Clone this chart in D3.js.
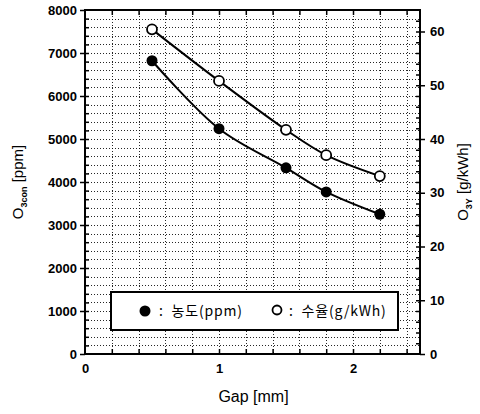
<!DOCTYPE html>
<html>
<head>
<meta charset="utf-8">
<script src="https://cdn.jsdelivr.net/npm/d3@7"></script>
<style>
  body { margin: 0; background: #fff; }
  svg { display: block; }
</style>
</head>
<body>
<svg width="480" height="414"></svg>
<script>
// data
var gaps = [0.5, 1.0, 1.5, 1.8, 2.2];
var concPpm = [6820, 5240, 4330, 3770, 3250];     // filled, left axis
var yieldGkwh = [60.4, 50.8, 41.7, 37.0, 33.1];    // open, right axis
var xTicks = [0, 1, 2];
var leftTicks = [0, 1000, 2000, 3000, 4000, 5000, 6000, 7000, 8000];
var rightTicks = [0, 10, 20, 30, 40, 50, 60];
var legendLabels = [":  농도(ppm)", ":  수율(g/kWh)"];

const svg = d3.select("svg"),
  margin = {left: 85, right: 60, top: 10, bottom: 60},
  width = +svg.attr("width"),
  height = +svg.attr("height");

const x = d3.scaleLinear().domain([0, 2.5]).range([margin.left, width - margin.right]);
const yL = d3.scaleLinear().domain([0, 8000]).range([height - margin.bottom, margin.top]);
const yR = d3.scaleLinear().domain([0, 64]).range([height - margin.bottom, margin.top]);

const x0 = x.range()[0], x1 = x.range()[1], y0 = yL.range()[0], y1 = yL.range()[1];

// dotted grid
const grid = svg.append("g")
    .attr("stroke", "#000")
    .attr("stroke-width", 1)
    .attr("stroke-dasharray", "1,2")
    .attr("stroke-opacity", 0.85);

grid.selectAll(".vg")
  .data(d3.range(0.2, 2.5, 0.2))
  .enter().append("line")
    .attr("x1", d => Math.round(x(d)) + 0.5)
    .attr("x2", d => Math.round(x(d)) + 0.5)
    .attr("y1", y1).attr("y2", y0);

grid.selectAll(".hg")
  .data(d3.range(200, 8000, 200))
  .enter().append("line")
    .attr("x1", x0).attr("x2", x1)
    .attr("y1", d => Math.round(yL(d)) + 0.5)
    .attr("y2", d => Math.round(yL(d)) + 0.5);

// axes
const font = "'Liberation Sans', Arial, sans-serif";

function styleAxis(g) {
  g.selectAll("path").remove();
  g.selectAll("line").attr("stroke", "#000").attr("stroke-width", 1.5);
  g.selectAll("text")
    .style("font-family", font)
    .style("font-size", "13px")
    .style("font-weight", "bold")
    .attr("fill", "#000");
}

// minor ticks (inward)
svg.append("g").attr("transform", `translate(${x0},0)`)
  .call(d3.axisRight(yL).tickValues(d3.range(200, 8000, 200)).tickSize(4).tickFormat(""))
  .call(styleAxis);
svg.append("g").attr("transform", `translate(${x1},0)`)
  .call(d3.axisLeft(yR).tickValues(d3.range(2, 64, 2)).tickSize(4).tickFormat(""))
  .call(styleAxis);
svg.append("g").attr("transform", `translate(0,${y0})`)
  .call(d3.axisTop(x).tickValues(d3.range(0.2, 2.5, 0.2)).tickSize(5).tickFormat(""))
  .call(styleAxis);
svg.append("g").attr("transform", `translate(0,${y1})`)
  .call(d3.axisBottom(x).tickValues(d3.range(0.2, 2.5, 0.2)).tickSize(5).tickFormat(""))
  .call(styleAxis);

// major ticks + labels
svg.append("g").attr("transform", `translate(${x0},0)`)
  .call(d3.axisLeft(yL).tickValues(leftTicks).tickSize(5).tickPadding(3).tickFormat(d3.format("d")))
  .call(styleAxis);
svg.append("g").attr("transform", `translate(${x1},0)`)
  .call(d3.axisRight(yR).tickValues(rightTicks).tickSize(5).tickPadding(5).tickFormat(d3.format("d")))
  .call(styleAxis);
svg.append("g").attr("transform", `translate(0,${y0})`)
  .call(d3.axisBottom(x).tickValues(xTicks).tickSize(0).tickPadding(10).tickFormat(d3.format("d")))
  .call(styleAxis);

// frame
svg.append("rect")
  .attr("x", x0).attr("y", y1)
  .attr("width", x1 - x0).attr("height", y0 - y1)
  .attr("fill", "none").attr("stroke", "#000").attr("stroke-width", 2);

// axis titles
svg.append("text")
  .attr("x", (x0 + x1) / 2 + 1).attr("y", 402)
  .attr("text-anchor", "middle")
  .style("font-family", font).style("font-size", "16px")
  .text("Gap [mm]");

const lt = svg.append("text")
  .attr("transform", `translate(23,${(y0 + y1) / 2}) rotate(-90)`)
  .attr("text-anchor", "middle")
  .style("font-family", font).style("font-size", "15px");
lt.append("tspan").text("O");
lt.append("tspan").attr("dy", 4).style("font-size", "9px").style("font-weight", "bold").text("3con");
lt.append("tspan").attr("dy", -4).text(" [ppm]");

const rt = svg.append("text")
  .attr("transform", `translate(468,${(y0 + y1) / 2}) rotate(-90)`)
  .attr("text-anchor", "middle")
  .style("font-family", font).style("font-size", "15px");
rt.append("tspan").text("O");
rt.append("tspan").attr("dy", 4).style("font-size", "9px").style("font-weight", "bold").text("3Y");
rt.append("tspan").attr("dy", -4).text(" [g/kWh]");

// series
const conc = gaps.map((g, i) => ({x: g, y: concPpm[i]}));
const yld = gaps.map((g, i) => ({x: g, y: yieldGkwh[i]}));

const lineL = d3.line().x(d => x(d.x)).y(d => yL(d.y)).curve(d3.curveCatmullRom.alpha(0.5));
const lineR = d3.line().x(d => x(d.x)).y(d => yR(d.y)).curve(d3.curveCatmullRom.alpha(0.5));

svg.append("path").datum(conc)
  .attr("d", lineL).attr("fill", "none").attr("stroke", "#000").attr("stroke-width", 2);
svg.append("path").datum(yld)
  .attr("d", lineR).attr("fill", "none").attr("stroke", "#000").attr("stroke-width", 2);

svg.append("g").selectAll("circle")
  .data(conc)
  .enter().append("circle")
    .attr("cx", d => x(d.x)).attr("cy", d => yL(d.y))
    .attr("r", 5.5).attr("fill", "#000");

svg.append("g").selectAll("circle")
  .data(yld)
  .enter().append("circle")
    .attr("cx", d => x(d.x)).attr("cy", d => yR(d.y))
    .attr("r", 5).attr("fill", "#fff").attr("stroke", "#000").attr("stroke-width", 1.8);

// legend
const lg = svg.append("g");
lg.append("rect")
  .attr("x", 111).attr("y", 292).attr("width", 287).attr("height", 38)
  .attr("fill", "#fff").attr("stroke", "#000").attr("stroke-width", 2);
lg.append("circle").attr("cx", 145).attr("cy", 311).attr("r", 5.5).attr("fill", "#000");
lg.append("circle").attr("cx", 277).attr("cy", 310).attr("r", 4.5)
  .attr("fill", "#fff").attr("stroke", "#000").attr("stroke-width", 1.8);
lg.selectAll("text")
  .data(legendLabels)
  .enter().append("text")
    .attr("x", (d, i) => i ? 289 : 159)
    .attr("y", 316)
    .attr("xml:space", "preserve")
    .style("white-space", "pre")
    .style("font-family", "'Noto Sans CJK KR', sans-serif")
    .style("font-size", "14px")
    .style("letter-spacing", "0.8px")
    .text(d => d);
</script>
</body>
</html>
